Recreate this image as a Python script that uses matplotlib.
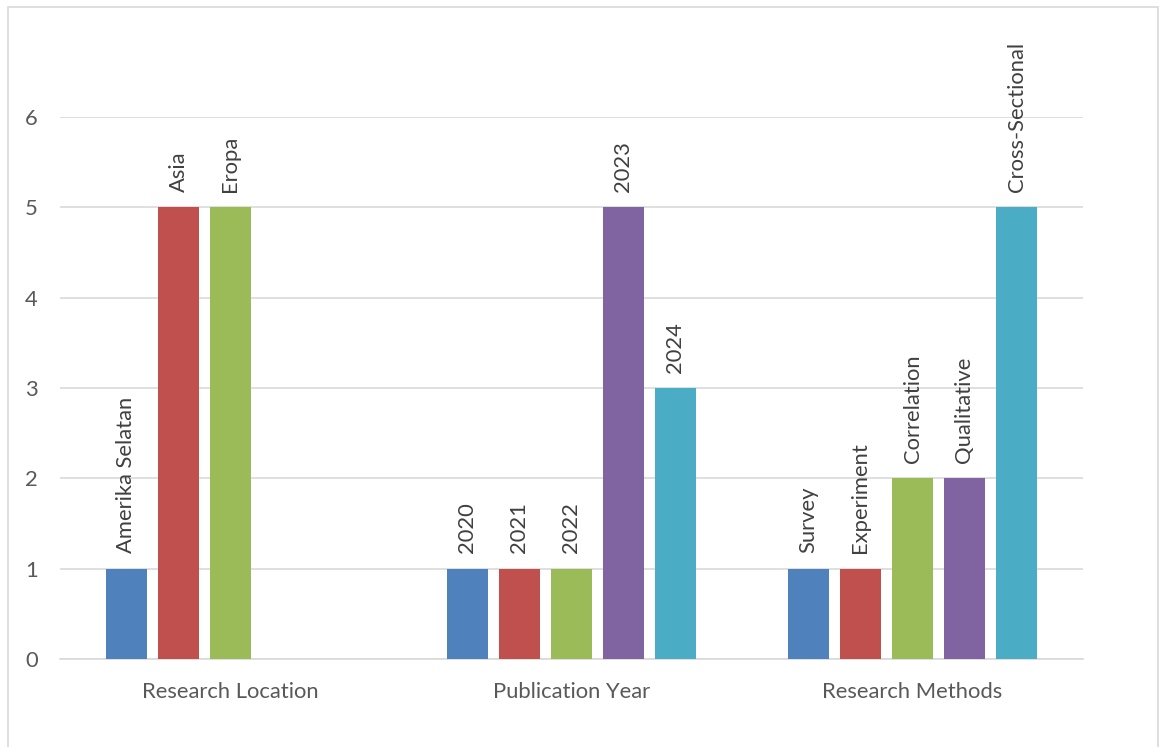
import matplotlib.pyplot as plt
from matplotlib.patches import Rectangle

categories = ["Research Location", "Publication Year", "Research Methods"]

location_labels = ["Amerika Selatan", "Asia", "Eropa"]
location_values = [1, 5, 5]

year_labels = ["2020", "2021", "2022", "2023", "2024"]
year_values = [1, 1, 1, 5, 3]

method_labels = ["Survey", "Experiment", "Correlation", "Qualitative", "Cross-Sectional"]
method_values = [1, 1, 2, 2, 5]

colors = ["#4F81BD", "#C0504D", "#9BBB59", "#8064A2", "#4BACC6"]

plt.rcParams['font.family'] = ['Lato', 'DejaVu Sans']

fig = plt.figure(figsize=(11.6, 7.47), dpi=100)
ax = fig.add_axes([60 / 1160, 1 - 659 / 747, 1023 / 1160, 542 / 747])

# outer chart border
fig.patches.append(Rectangle((8 / 1160, -0.01), 1150 / 1160, 1 - 7 / 747 + 0.01,
                             transform=fig.transFigure, fill=False,
                             edgecolor="#D9D9D9", linewidth=1.2))

slot = 52 / 341
width = 41 / 341
groups = [(location_labels, location_values),
          (year_labels, year_values),
          (method_labels, method_values)]

for c, (labels, values) in enumerate(groups):
    for i, (lab, val) in enumerate(zip(labels, values)):
        x = c + (i - 2) * slot
        ax.bar(x, val, width=width, color=colors[i], zorder=3)
        ax.text(x, val + 0.17, lab, rotation=90, ha="center", va="bottom",
                fontsize=15.8, color="#404040", clip_on=False)

ax.set_xlim(-0.5, 2.5)
ax.set_ylim(0, 6)
ax.set_yticks(range(7))
ax.set_xticks(range(3))
ax.set_xticklabels(categories)
ax.tick_params(axis="both", length=0, labelsize=15.8, labelcolor="#595959")
ax.tick_params(axis="y", pad=16)
ax.tick_params(axis="x", pad=16.5)
ax.grid(axis="y", color="#D9D9D9", linewidth=1.2, zorder=0)
for s in ["top", "right", "left"]:
    ax.spines[s].set_visible(False)
ax.spines["bottom"].set_color("#D9D9D9")
ax.spines["bottom"].set_linewidth(1.2)

fig.savefig("out.png", dpi=100)
